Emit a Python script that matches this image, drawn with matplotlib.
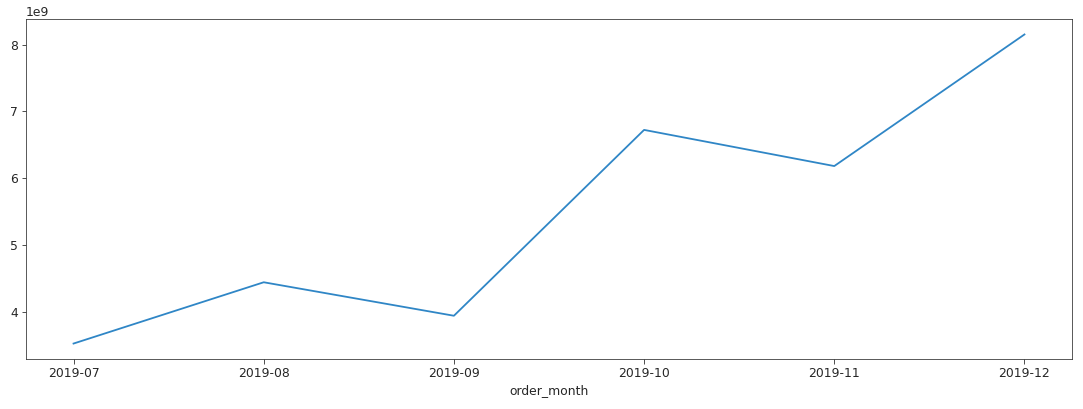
import matplotlib
matplotlib.use("Agg")
import matplotlib.pyplot as plt

# monthly totals
order_month = ["2019-07", "2019-08", "2019-09", "2019-10", "2019-11", "2019-12"]
total = [3.535e9, 4.45e9, 3.95e9, 6.725e9, 6.185e9, 8.15e9]

plt.rcParams["font.size"] = 12.4
plt.rcParams["text.color"] = "#262626"
plt.rcParams["xtick.color"] = "#262626"
plt.rcParams["ytick.color"] = "#262626"
plt.rcParams["axes.labelcolor"] = "#262626"
plt.rcParams["axes.edgecolor"] = "#333333"

fig = plt.figure(figsize=(1083 / 72, 409 / 72), dpi=72)
ax = fig.add_axes([26 / 1083, 1 - 359 / 409, (1072 - 26) / 1083, (359 - 19) / 409])
ax.plot(order_month, total, color="#2f86c6", linewidth=1.8)
ax.set_xlabel("order_month")
ax.tick_params(length=4.5)

fig.savefig("out.png", dpi=72)
